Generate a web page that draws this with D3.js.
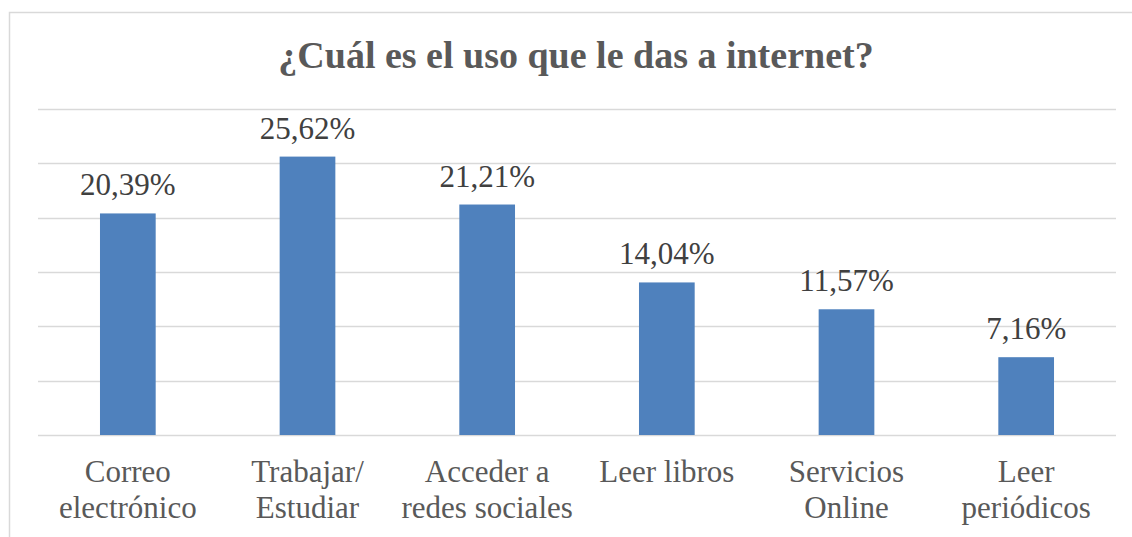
<!DOCTYPE html>
<html>
<head>
<meta charset="utf-8">
<script src="https://cdn.jsdelivr.net/npm/d3@7"></script>
<style>
  body { margin: 0; background: #fff; }
</style>
</head>
<body>
<div id="chart"></div>
<script>
var title = "¿Cuál es el uso que le das a internet?";
var categories = ["Correo electrónico", "Trabajar/ Estudiar", "Acceder a redes sociales", "Leer libros", "Servicios Online", "Leer periódicos"];
var catLines = [["Correo", "electrónico"], ["Trabajar/", "Estudiar"], ["Acceder a", "redes sociales"], ["Leer libros"], ["Servicios", "Online"], ["Leer", "periódicos"]];
var values = [20.39, 25.62, 21.21, 14.04, 11.57, 7.16];
var yTicks = [0, 5, 10, 15, 20, 25, 30];

var W = 1132, H = 537;
var margin = {top: 109, left: 38, right: 16, bottom: 102};

var svg = d3.select("#chart").append("svg")
    .attr("width", W)
    .attr("height", H)
    .attr("font-family", "Liberation Serif, Times New Roman, serif");

// chart frame (cut off at right and bottom)
svg.append("rect")
    .attr("x", 9.5).attr("y", 12.5)
    .attr("width", W + 20).attr("height", H + 20)
    .attr("fill", "none")
    .attr("stroke", "#d9d9d9")
    .attr("stroke-width", 1.5);

var x = d3.scaleBand()
    .domain(categories)
    .range([margin.left, W - margin.right])
    .paddingInner(0.69)
    .paddingOuter(0.345);

var y = d3.scaleLinear()
    .domain([0, 30])
    .range([H - margin.bottom, margin.top]);

// gridlines
svg.append("g").selectAll("line")
    .data(yTicks)
  .enter().append("line")
    .attr("x1", margin.left)
    .attr("x2", W - margin.right)
    .attr("y1", function(d){ return Math.round(y(d)) + 0.5; })
    .attr("y2", function(d){ return Math.round(y(d)) + 0.5; })
    .attr("stroke", "#d9d9d9")
    .attr("stroke-width", 1.5);

svg.append("text")
    .attr("x", 576)
    .attr("y", 68)
    .attr("text-anchor", "middle")
    .attr("fill", "#595959")
    .attr("font-size", 38)
    .attr("font-weight", "bold")
    .text(title);

svg.append("g").selectAll("rect")
    .data(values)
  .enter().append("rect")
    .attr("x", function(d, i){ return x(categories[i]); })
    .attr("y", function(d){ return y(d); })
    .attr("width", x.bandwidth())
    .attr("height", function(d){ return y(0) - y(d); })
    .attr("fill", "#4f81bd");

svg.append("g").selectAll("text")
    .data(values)
  .enter().append("text")
    .attr("x", function(d, i){ return x(categories[i]) + x.bandwidth() / 2; })
    .attr("y", function(d){ return y(d) - 18; })
    .attr("text-anchor", "middle")
    .attr("fill", "#404040")
    .attr("font-size", 31)
    .text(function(d){ return d.toFixed(2).replace(".", ",") + "%"; });

var cat = svg.append("g").selectAll("text")
    .data(catLines)
  .enter().append("text")
    .attr("text-anchor", "middle")
    .attr("fill", "#595959")
    .attr("font-size", 31)
    .attr("transform", function(d, i){
      return "translate(" + (x(categories[i]) + x.bandwidth() / 2) + ",482)";
    });

cat.selectAll("tspan")
    .data(function(d){ return d; })
  .enter().append("tspan")
    .attr("x", 0)
    .attr("y", function(d, i){ return i * 36; })
    .text(function(d){ return d; });
</script>
</body>
</html>
